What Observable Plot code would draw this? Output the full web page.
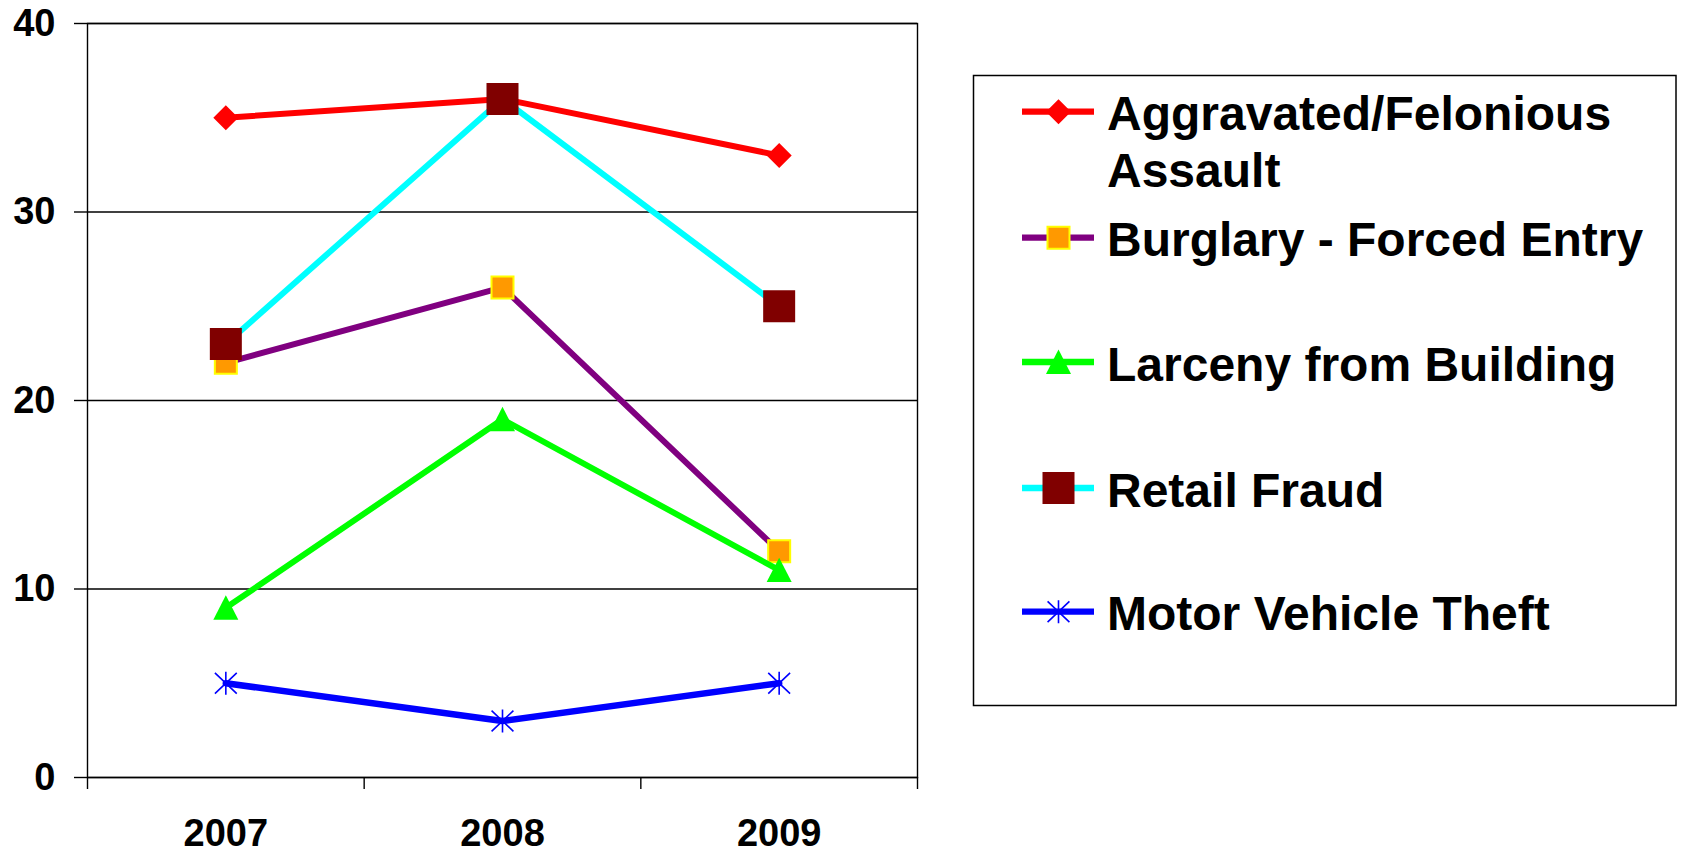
<!DOCTYPE html>
<html><head><meta charset="utf-8">
<script src="https://cdn.jsdelivr.net/npm/d3@7"></script>
<script src="https://cdn.jsdelivr.net/npm/@observablehq/plot@0.6"></script>
<style>
html,body{margin:0;padding:0;background:#fff;}
#wrap{position:relative;width:1681px;height:855px;overflow:hidden;background:#fff;}
#chart{position:absolute;left:0;top:0;}
#legend{position:absolute;left:0;top:0;}
</style></head><body>
<div id="wrap"><div id="chart"></div><svg id="legend" width="1681" height="855"></svg></div>
<script>
// ---- data ----
const years = [2007, 2008, 2009];
const yearLabels = ["2007", "2008", "2009"];
const yTicks = [0, 10, 20, 30, 40];
const seriesNames = ["Aggravated/Felonious Assault", "Burglary - Forced Entry", "Larceny from Building", "Retail Fraud", "Motor Vehicle Theft"];
const aggravated = [35, 36, 33];
const burglary = [22, 26, 12];
const larceny = [9, 19, 11];
const retailFraud = [23, 36, 25];
const motorVehicle = [5, 3, 5];

// ---- styles ----
const FONT = "'Liberation Sans', Arial, Helvetica, sans-serif";
const lineColors = ["#FF0000", "#800080", "#00FF00", "#00FFFF", "#0000FF"];
const lineWidths = [6, 6, 6, 6, 6.5];
const half = s => Math.sqrt(s / Math.PI);
const symDiamond = {draw(c, s) {const r = half(s); c.moveTo(0, -r); c.lineTo(r, 0); c.lineTo(0, r); c.lineTo(-r, 0); c.closePath();}};
const symSquare = {draw(c, s) {const r = half(s); c.moveTo(-r, -r); c.lineTo(r, -r); c.lineTo(r, r); c.lineTo(-r, r); c.closePath();}};
const symTriangle = {draw(c, s) {const r = half(s); c.moveTo(0, -r); c.lineTo(r, r * 0.95); c.lineTo(-r, r * 0.95); c.closePath();}};
const symStar = {draw(c, s) {const r = half(s); c.moveTo(0, -r); c.lineTo(0, r); c.moveTo(-r * 0.95, -r * 0.9); c.lineTo(r * 0.95, r * 0.9); c.moveTo(-r * 0.95, r * 0.9); c.lineTo(r * 0.95, -r * 0.9);}};
const markers = [
  {symbol: symDiamond, r: 12.5, fill: "#FF0000", stroke: "none", strokeWidth: 0},
  {symbol: symSquare, r: 11, fill: "#FF9900", stroke: "#FFFF00", strokeWidth: 2},
  {symbol: symTriangle, r: 12.5, fill: "#00FF00", stroke: "none", strokeWidth: 0},
  {symbol: symSquare, r: 16, fill: "#800000", stroke: "none", strokeWidth: 0},
  {symbol: symStar, r: 11.5, fill: "none", stroke: "#0000FF", strokeWidth: 1.6}
];

const seriesValues = [aggravated, burglary, larceny, retailFraud, motorVehicle];
const rows = seriesNames.flatMap((name, i) => years.map((yr, j) => ({series: name, year: yr, value: seriesValues[i][j]})));
const bounds = [years[0] - 0.5, ...years.map(y => y + 0.5)];

const seriesMarks = seriesNames.flatMap((name, i) => {
  const d = rows.filter(r => r.series === name);
  const m = markers[i];
  return [
    Plot.line(d, {x: "year", y: "value", stroke: lineColors[i], strokeWidth: lineWidths[i], strokeLinejoin: "round"}),
    Plot.dot(d, {x: "year", y: "value", symbol: m.symbol, r: m.r, fill: m.fill, stroke: m.stroke, strokeWidth: m.strokeWidth})
  ];
});

const chart = Plot.plot({
  width: 940,
  height: 855,
  marginLeft: 87,
  marginRight: 23,
  marginTop: 23,
  marginBottom: 78,
  style: {fontFamily: FONT, fontWeight: "bold", fontSize: "38px", color: "black", background: "white", overflow: "visible"},
  x: {domain: [bounds[0], bounds[bounds.length - 1]]},
  y: {domain: [0, 40]},
  marks: [
    Plot.gridY({ticks: yTicks, stroke: "black", strokeOpacity: 1, strokeWidth: 1.4}),
    Plot.frame({stroke: "black", strokeWidth: 1.4}),
    Plot.axisY({ticks: yTicks, tickSize: 13, tickPadding: 19, fontSize: 38, fontWeight: "bold", strokeWidth: 1.4, label: null}),
    Plot.axisX({ticks: bounds, tickSize: 12, tickFormat: () => "", strokeWidth: 1.4, label: null}),
    Plot.axisX({ticks: years, tickSize: 0, tickPadding: 42, tickFormat: (d) => yearLabels[years.indexOf(d)], fontSize: 38, fontWeight: "bold", label: null}),
    ...seriesMarks
  ]
});
document.getElementById("chart").appendChild(chart);

// ---- legend ----
const lg = d3.select("#legend");
lg.append("rect").attr("x", 973.5).attr("y", 75.5).attr("width", 702.5).attr("height", 630)
  .attr("fill", "white").attr("stroke", "black").attr("stroke-width", 1.5);
const rowY = [111.7, 237.7, 362, 488, 611.7];
const wrapLabel = name => name.length > 24 ? [name.slice(0, name.lastIndexOf(" ")), name.slice(name.lastIndexOf(" ") + 1)] : [name];
seriesNames.forEach((name, i) => {
  const y = rowY[i];
  lg.append("line").attr("x1", 1022).attr("x2", 1094).attr("y1", y).attr("y2", y)
    .attr("stroke", lineColors[i]).attr("stroke-width", 6.3);
  const m = markers[i];
  lg.append("path").attr("transform", `translate(1058.5,${y})`)
    .attr("d", d3.symbol(m.symbol, Math.PI * m.r * m.r)())
    .attr("fill", m.fill).attr("stroke", m.stroke).attr("stroke-width", m.strokeWidth);
  const t = lg.append("text").attr("x", 1107).attr("y", y + 18.5)
    .attr("font-family", FONT).attr("font-weight", "bold").attr("font-size", 48).attr("fill", "black");
  wrapLabel(name).forEach((ln, k) => {
    t.append("tspan").attr("x", 1107).attr("dy", k === 0 ? 0 : 56.7).text(ln);
  });
});
</script>
</body></html>
